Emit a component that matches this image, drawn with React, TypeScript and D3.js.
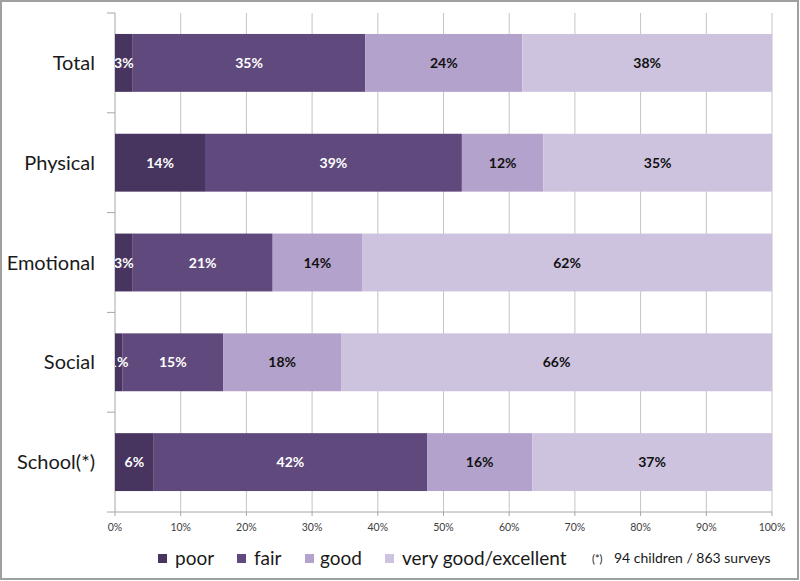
import React from "react";
import * as d3 from "d3";

const categories = ["Total", "Physical", "Emotional", "Social", "School(*)"];
const seriesNames = ["poor", "fair", "good", "very good/excellent"];
const poor = [2.7, 13.7, 2.7, 1.1, 5.9];
const fair = [35.4, 39.1, 21.3, 15.4, 41.6];
const good = [23.9, 12.4, 13.6, 17.9, 16.0];
const veryGood = [38.0, 34.8, 62.4, 65.6, 36.5];
const xTicks = [0, 10, 20, 30, 40, 50, 60, 70, 80, 90, 100];
const footnoteMark = "(*)";
const footnoteText = "94 children / 863 surveys";

const colors = ["#47345f", "#604a7d", "#b3a2cb", "#cec3df"];
const labelColors = ["#ffffff", "#ffffff", "#111111", "#111111"];

export default function App() {
  const W = 800, H = 581;
  const left = 115, right = 772, top = 13, bottom = 512;
  const x = d3.scaleLinear().domain([0, 100]).range([left, right]);
  const y = d3.scaleBand<string>().domain(categories).range([top, bottom]).paddingInner(0.42).paddingOuter(0.21);
  const step = (bottom - top) / categories.length;

  const rows = categories.map((c, i) => ({ cat: c, poor: poor[i], fair: fair[i], good: good[i], vg: veryGood[i] }));
  const stack = d3.stack<any>().keys(["poor", "fair", "good", "vg"])(rows);
  const font = "Lato, 'Open Sans', sans-serif";

  const legendItems = [
    { sx: 158, tx: 175 },
    { sx: 237, tx: 254 },
    { sx: 305, tx: 320 },
    { sx: 385, tx: 402 },
  ];

  return (
    <svg width={W} height={H} style={{ position: "absolute", left: 0, top: 0 }} fontFamily={font}>
      <defs>
        <clipPath id="plotClip">
          <rect x={left} y={top} width={right - left} height={bottom - top} />
        </clipPath>
      </defs>
      <rect x={0} y={0} width={W} height={H} fill="#ffffff" />
      <rect x={1} y={1} width={W - 3} height={H - 3} fill="none" stroke="#a0a0a0" strokeWidth={2} />
      {xTicks.filter(t => t > 0).map(t => (
        <line key={"g" + t} x1={x(t)} x2={x(t)} y1={top} y2={bottom} stroke="#c4c4c4" strokeWidth={1} />
      ))}
      <line x1={left} x2={left} y1={top} y2={bottom} stroke="#a6a6a6" />
      <line x1={left} x2={right} y1={bottom} y2={bottom} stroke="#a6a6a6" />
      {d3.range(categories.length + 1).map(i => (
        <line key={"yt" + i} x1={left - 8} x2={left} y1={top + i * step} y2={top + i * step} stroke="#a6a6a6" />
      ))}
      {xTicks.map(t => (
        <line key={"xt" + t} x1={x(t)} x2={x(t)} y1={bottom} y2={bottom + 4} stroke="#a6a6a6" />
      ))}
      {xTicks.map(t => (
        <text key={"xl" + t} x={x(t)} y={531} textAnchor="middle" fontSize={10.5} fill="#404040">{t + "%"}</text>
      ))}
      {categories.map(c => (
        <text key={"c" + c} x={95} y={(y(c) as number) + y.bandwidth() / 2 + 7} textAnchor="end" fontSize={20} fill="#1a1a1a">{c}</text>
      ))}
      {stack.map((s, si) => (
        <g key={"s" + si}>
          {s.map((d, di) => (
            <rect key={di} x={x(d[0])} y={y(categories[di])} width={x(d[1]) - x(d[0])} height={y.bandwidth()} fill={colors[si]} />
          ))}
        </g>
      ))}
      <g clipPath="url(#plotClip)">
        {stack.map((s, si) => (
          <g key={"l" + si}>
            {s.map((d, di) => (
              <text key={di} x={(x(d[0]) + x(d[1])) / 2} y={(y(categories[di]) as number) + y.bandwidth() / 2 + 5}
                textAnchor="middle" fontSize={14} fontWeight="bold" fill={labelColors[si]}>
                {Math.round(d[1] - d[0]) + "%"}
              </text>
            ))}
          </g>
        ))}
      </g>
      {seriesNames.map((n, i) => (
        <g key={"lg" + i}>
          <rect x={legendItems[i].sx} y={554} width={9} height={9} fill={colors[i]} />
          <text x={legendItems[i].tx} y={565} fontSize={19} fill="#1a1a1a">{n}</text>
        </g>
      ))}
      <text x={592} y={563} fontSize={11} fill="#1a1a1a">{footnoteMark}</text>
      <text x={614} y={563} fontSize={14} fill="#1a1a1a">{footnoteText}</text>
    </svg>
  );
}
